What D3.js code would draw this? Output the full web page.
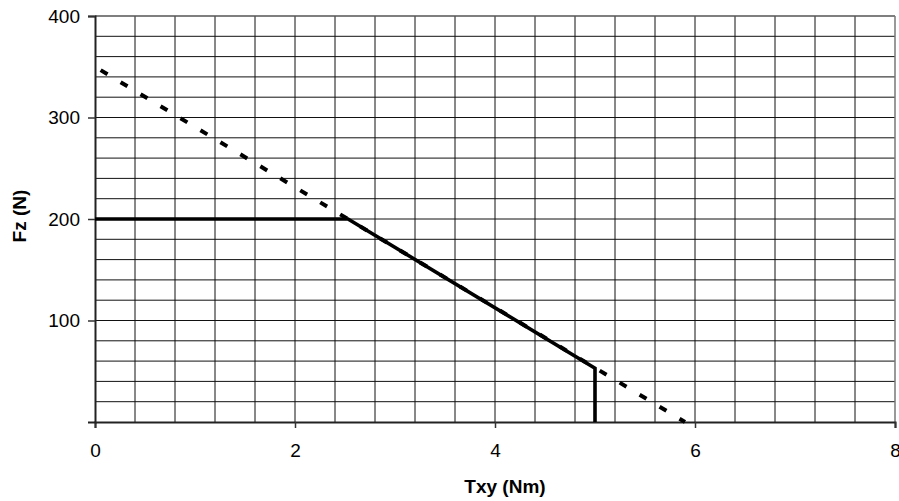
<!DOCTYPE html>
<html>
<head>
<meta charset="utf-8">
<script src="https://cdn.jsdelivr.net/npm/d3@7"></script>
<style>
  body { margin: 0; background: #fff; }
  svg { display: block; font-family: "Liberation Sans", Arial, sans-serif; }
</style>
</head>
<body>
<svg id="chart"></svg>
<script>
// data
const limitTxy = [0, 5.9];
const limitFz = [350, 0];
const curveTxy = [0, 2.53, 5, 5];
const curveFz = [200, 200, 53, 0];

const xTicks = [0, 2, 4, 6, 8];
const yTicks = [100, 200, 300, 400];

const width = 899;
const height = 501;
const margin = { top: 16, right: 4, bottom: 79, left: 95 };

const svg = d3.select("#chart")
  .attr("width", width)
  .attr("height", height);

const x = d3.scaleLinear().domain([0, 8]).range([margin.left, width - margin.right]);
const y = d3.scaleLinear().domain([0, 400]).range([height - margin.bottom, margin.top]);

// grid
const grid = svg.append("g").attr("stroke", "#111").attr("stroke-width", 1);
grid.selectAll(".vx")
  .data(d3.range(1, 20).map(i => i * 0.4))
  .enter().append("line")
  .attr("x1", d => x(d)).attr("x2", d => x(d))
  .attr("y1", y(0)).attr("y2", y(400));
grid.selectAll(".hy")
  .data(d3.range(1, 20).map(i => i * 20))
  .enter().append("line")
  .attr("y1", d => y(d)).attr("y2", d => y(d))
  .attr("x1", x(0)).attr("x2", x(8));

// frame top/right
svg.append("line").attr("x1", x(0)).attr("x2", x(8)).attr("y1", y(400)).attr("y2", y(400))
  .attr("stroke", "#555").attr("stroke-width", 1.5);
svg.append("line").attr("x1", x(8)).attr("x2", x(8)).attr("y1", y(0)).attr("y2", y(400))
  .attr("stroke", "#777").attr("stroke-width", 1.5);

const xAxis = d3.axisBottom(x).tickValues(xTicks).tickSize(6).tickPadding(16).tickFormat(d3.format("d"));
const yAxis = d3.axisLeft(y).tickValues(yTicks).tickSize(7).tickPadding(8).tickFormat(d3.format("d"));

const gx = svg.append("g")
  .attr("transform", `translate(0, ${y(0)})`)
  .call(xAxis);
const gy = svg.append("g")
  .attr("transform", `translate(${x(0)}, 0)`)
  .call(yAxis);

[gx, gy].forEach(g => {
  g.select(".domain").attr("stroke", "#222").attr("stroke-width", 2);
  g.selectAll(".tick line").attr("stroke", "#333").attr("stroke-width", 1.5);
  g.selectAll(".tick text")
    .attr("fill", "#000")
    .style("font-size", "19px")
    .style("font-family", "Liberation Sans, Arial, sans-serif");
});

// dashed limit line
const line = d3.line().x(d => x(d[0])).y(d => y(d[1]));
svg.append("path")
  .datum(d3.zip(limitTxy, limitFz))
  .attr("d", line)
  .attr("fill", "none")
  .attr("stroke", "#000")
  .attr("stroke-width", 4)
  .attr("stroke-dasharray", "8,15.3")
  .attr("stroke-dashoffset", 16.7);

// solid working curve
svg.append("path")
  .datum(d3.zip(curveTxy, curveFz))
  .attr("d", line)
  .attr("fill", "none")
  .attr("stroke", "#000")
  .attr("stroke-width", 3.6)
  .attr("stroke-linejoin", "miter");

// axis titles
svg.append("text")
  .attr("x", 505)
  .attr("y", 493)
  .attr("text-anchor", "middle")
  .style("font-weight", "bold")
  .style("font-size", "19px")
  .text("Txy (Nm)");

svg.append("text")
  .attr("transform", `translate(26, 216) rotate(-90)`)
  .attr("text-anchor", "middle")
  .style("font-weight", "bold")
  .style("font-size", "19px")
  .text("Fz (N)");
</script>
</body>
</html>
